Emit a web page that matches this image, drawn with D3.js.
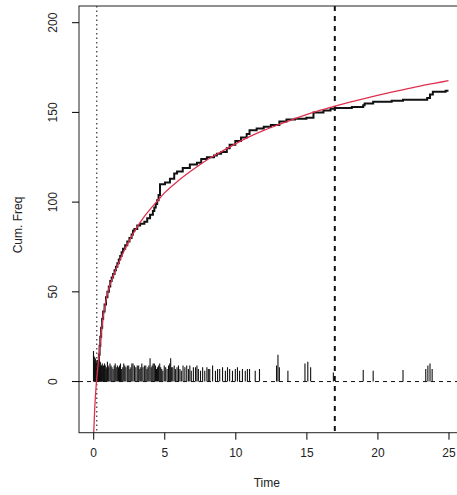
<!DOCTYPE html>
<html>
<head>
<meta charset="utf-8">
<script src="https://cdn.jsdelivr.net/npm/d3@7"></script>
<style>
  body { margin: 0; background: #fff; }
  text { font-family: "Liberation Sans", Arial, sans-serif; fill: #222; }
</style>
</head>
<body>
<div id="plot"></div>
<script>
const obsTime = [0.3,0.32,0.36,0.4,0.45,0.5,0.56,0.63,0.7,0.8,0.9,1.0,1.1,1.2,1.3,1.4,1.5,1.6,1.7,1.8,1.9,2.0,2.1,2.25,2.4,2.55,2.7,2.8,2.9,3.1,3.3,3.6,3.8,4.0,4.2,4.3,4.4,4.5,4.6,4.7,5.05,5.4,5.7,5.9,6.3,6.8,7.3,7.6,8.0,8.5,8.7,9.0,9.4,9.6,10.0,10.4,10.8,11.0,11.5,12.0,12.5,13.1,13.6,14.2,15.0,15.5,16.2,16.7,17.0,18.2,19.0,19.1,19.7,21.0,21.8,23.5,23.7,23.9,24.8,25]
const obsCum  = [1,5,10,15,20,25,30,35,39,43,47,50,53,56,58,60,62,64,66,68,70,72,74,76,78,80,82,84,85,87,88,89,91,93,95,97,99,101,104,110,111,113,116,117,119,121,122,124,125,126,127,128,130,132,134,136,138,140,141,142,143,145,146,146.5,147,150,151,152,152.5,153,154,155,156,156.5,157,158,160,161.5,162,162]

// fitted curve (red)
const fitTime = [0.02,0.1,0.2,0.35,0.5,0.7,1.0,1.4,2.0,2.5,3.0,3.5,4.0,4.5,5,6,7,8,9,10,11,12,13,14,15,16,17,18,19,20,21,22,23,24,25]
const fitCum  = [-32,-16,-3,10,22,36,49,58.5,70,78,85,91,96,100.5,105,112,118,123.5,128,132.5,136.5,140,143,146,148.8,151.3,153.5,155.6,157.6,159.5,161.3,163,164.7,166.2,167.7]

// spikes along the baseline (type "h")
const spikeTime = [
  0.02,0.05,0.08,0.1,0.13,0.15,0.18,0.2,0.23,0.25,
  0.28,0.3,0.33,0.35,0.38,0.4,0.43,0.45,0.48,0.5,
  0.53,0.55,0.58,0.6,0.64,0.68,0.72,0.76,0.8,0.85,
  0.9,0.95,1.0,1.05,1.1,1.18,1.25,1.32,1.4,1.48,
  1.55,1.62,1.7,1.78,1.85,1.92,2.0,2.08,2.15,2.22,
  2.3,2.4,2.5,2.58,2.65,2.72,2.8,2.9,3.0,3.1,
  3.2,3.28,3.35,3.42,3.5,3.6,3.7,3.78,3.85,3.92,
  4.0,4.08,4.15,4.22,4.3,4.38,4.45,4.52,4.6,4.68,
  4.75,4.82,4.9,5.0,5.1,5.2,5.3,5.38,5.45,5.52,
  5.6,5.7,5.8,5.9,6.0,6.1,6.2,6.32,6.45,6.58,
  6.7,6.8,6.9,7.05,7.2,7.3,7.4,7.55,7.7,7.85,
  8.0,8.1,8.2,8.4,8.6,8.75,8.9,9.1,9.3,9.45,
  9.6,9.8,10.0,10.15,10.3,10.5,10.7,10.85,11.0,11.4,
  11.7,12.9,13.0,13.1,13.7,14.9,15.1,15.3,16.9,19.0,
  19.7,21.8,23.4,23.55,23.7,23.85]
const spikeHeight = [
  17,12,14,10,11,13,9,12,10,11,
  9,12,8,10,9,12,8,9,10,11,
  8,7,9,9,10,8,9,8,10,9,
  7,8,11,9,8,10,9,8,7,9,
  10,8,9,8,9,10,7,8,10,9,
  8,9,9,7,8,10,10,9,8,9,
  9,7,8,10,8,9,9,7,8,9,
  13,8,9,10,10,9,7,8,9,10,
  8,7,6,9,8,7,9,10,13,8,
  8,9,7,8,9,7,6,9,8,9,
  7,9,6,8,8,9,7,6,8,6,
  8,7,7,9,6,7,7,8,6,8,
  7,6,7,8,6,7,6,7,7,6,
  7,9,15,8,6,10,11,8,5,6.5,
  6,6.5,7,9,10,7]

const xTicks = [0, 5, 10, 15, 20, 25]
const yTicks = [0, 50, 100, 150, 200]
const vLines = [0.25, 17]

const width = 457, height = 495
const plot = {left: 79, top: 6, right: 462.7, bottom: 432.7}

const svg = d3.select("#plot")
  .append("svg")
    .attr("width", width)
    .attr("height", height)

const x = d3.scaleLinear().domain([-1, 26]).range([plot.left, plot.right])
const y = d3.scaleLinear().domain([-28.5, 209.3]).range([plot.bottom, plot.top])

svg.append("clipPath").attr("id", "clip")
  .append("rect")
    .attr("x", plot.left).attr("y", plot.top)
    .attr("width", plot.right - plot.left).attr("height", plot.bottom - plot.top)

const g = svg.append("g").attr("clip-path", "url(#clip)")

// baseline at zero
g.append("line")
  .attr("x1", plot.left).attr("x2", plot.right)
  .attr("y1", y(0)).attr("y2", y(0))
  .attr("stroke", "#111").attr("stroke-width", 1)
  .attr("stroke-dasharray", "4,4")

// spikes
g.selectAll(".spike")
  .data(spikeTime.map((t, i) => [t, spikeHeight[i]]))
  .join("line")
    .attr("class", "spike")
    .attr("x1", d => x(d[0])).attr("x2", d => x(d[0]))
    .attr("y1", y(0)).attr("y2", d => y(d[1]))
    .attr("stroke", "#111").attr("stroke-width", 1.1)

// vertical reference lines
g.append("line")
  .attr("x1", x(vLines[0])).attr("x2", x(vLines[0]))
  .attr("y1", plot.top).attr("y2", plot.bottom)
  .attr("stroke", "#333").attr("stroke-width", 1.2)
  .attr("stroke-dasharray", "1.5,3")
g.append("line")
  .attr("x1", x(vLines[1])).attr("x2", x(vLines[1]))
  .attr("y1", plot.top).attr("y2", plot.bottom)
  .attr("stroke", "#111").attr("stroke-width", 2)
  .attr("stroke-dasharray", "5,5")

// observed step curve
g.append("path")
  .datum(obsTime.map((t, i) => [t, obsCum[i]]))
  .attr("fill", "none")
  .attr("stroke", "#111")
  .attr("stroke-width", 2)
  .attr("d", d3.line().curve(d3.curveStepAfter).x(d => x(d[0])).y(d => y(d[1])))

// fitted curve
g.append("path")
  .datum(fitTime.map((t, i) => [t, fitCum[i]]))
  .attr("fill", "none")
  .attr("stroke", "#e0304f")
  .attr("stroke-width", 1.3)
  .attr("d", d3.line().curve(d3.curveMonotoneX).x(d => x(d[0])).y(d => y(d[1])))

// box
svg.append("rect")
  .attr("x", plot.left).attr("y", plot.top)
  .attr("width", plot.right - plot.left).attr("height", plot.bottom - plot.top)
  .attr("fill", "none").attr("stroke", "#222").attr("stroke-width", 1)

// axes
const xAxis = svg.append("g")
  .attr("transform", `translate(0, ${plot.bottom})`)
  .call(d3.axisBottom(x).tickValues(xTicks).tickSize(7).tickPadding(9))
xAxis.select(".domain").remove()
xAxis.selectAll("text").style("font-size", "12px")

const yAxis = svg.append("g")
  .attr("transform", `translate(${plot.left}, 0)`)
  .call(d3.axisLeft(y).tickValues(yTicks).tickSize(7))
yAxis.select(".domain").remove()
yAxis.selectAll(".tick").attr("transform", null)
yAxis.selectAll(".tick line").attr("y1", d => y(d)).attr("y2", d => y(d))
yAxis.selectAll("text")
  .style("font-size", "12px")
  .attr("text-anchor", "middle")
  .attr("x", 0).attr("y", 0).attr("dy", 0)
  .attr("transform", d => `translate(-22, ${y(d)}) rotate(-90)`)

svg.append("text")
  .attr("x", (plot.left + plot.right) / 2 - 4).attr("y", 487)
  .attr("text-anchor", "middle")
  .style("font-size", "12px")
  .text("Time")

svg.append("text")
  .attr("transform", `translate(22, 225) rotate(-90)`)
  .attr("text-anchor", "middle")
  .style("font-size", "12px")
  .text("Cum. Freq")
</script>
</body>
</html>
